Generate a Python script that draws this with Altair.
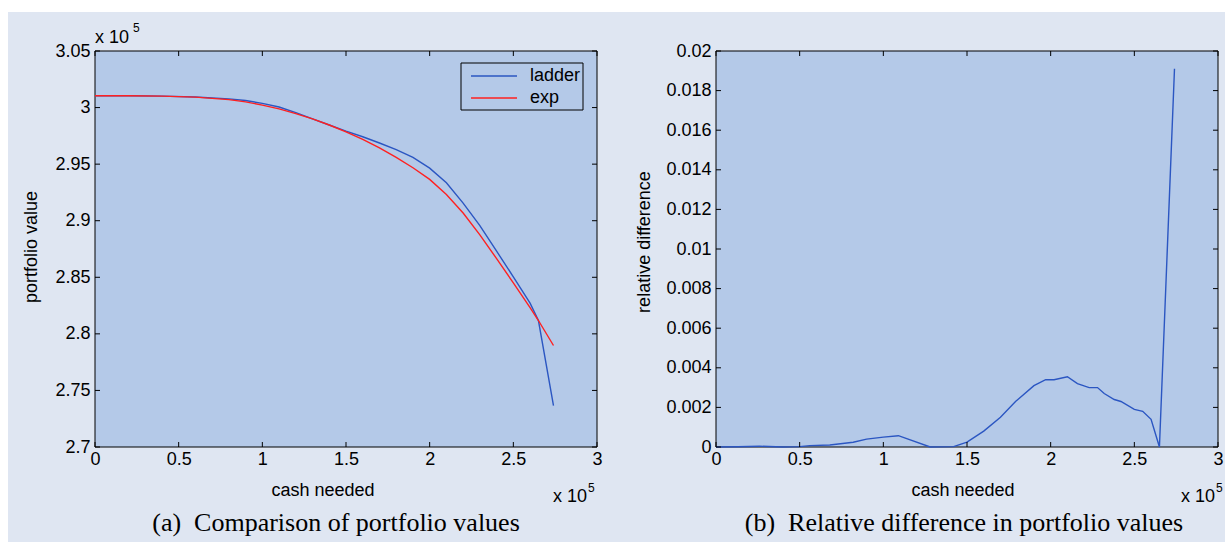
import altair as alt
import pandas as pd

# ---------------- data ----------------
# panel (a): cash needed (x 1e5) vs portfolio value (x 1e5)
x_a = [0.0, 0.2, 0.4, 0.6, 0.8, 0.9, 1.0, 1.1, 1.2, 1.3, 1.4, 1.5, 1.6, 1.7,
       1.8, 1.9, 2.0, 2.1, 2.2, 2.3, 2.4, 2.5, 2.6, 2.65, 2.74]
ladder = [3.0105, 3.0105, 3.0101, 3.0094, 3.0077, 3.0062, 3.0037, 3.0005,
          2.9956, 2.9900, 2.9846, 2.9792, 2.9742, 2.9687, 2.9628, 2.9559,
          2.9465, 2.9336, 2.9156, 2.8956, 2.8731, 2.8504, 2.8272, 2.8118,
          2.7365]
exp_v = [3.0105, 3.0104, 3.0101, 3.0092, 3.0070, 3.0050, 3.0022, 2.9988,
         2.9947, 2.9900, 2.9846, 2.9785, 2.9718, 2.9643, 2.9560, 2.9468,
         2.9365, 2.9232, 2.9068, 2.8875, 2.8665, 2.8450, 2.8232, 2.8118,
         2.7897]

# panel (b): relative difference
x_b = [0.0, 0.13, 0.26, 0.40, 0.50, 0.56, 0.68, 0.82, 0.90, 1.00, 1.09, 1.28,
       1.42, 1.50, 1.60, 1.70, 1.79, 1.90, 1.97, 2.02, 2.10, 2.16, 2.23, 2.28,
       2.32, 2.38, 2.42, 2.50, 2.55, 2.60, 2.65, 2.74]
rel_diff = [0.0, 0.00001, 0.00004, 0.0, 0.00002, 0.00007, 0.0001, 0.00024,
            0.0004, 0.0005, 0.00057, 0.0, 0.00002, 0.00025, 0.0008, 0.0015,
            0.0023, 0.0031, 0.0034, 0.0034, 0.00355, 0.0032, 0.0030, 0.0030,
            0.0027, 0.0024, 0.0023, 0.0019, 0.0018, 0.0014, 0.0, 0.0191]

series_names = ["ladder", "exp"]
x_ticks = [0, 0.5, 1, 1.5, 2, 2.5, 3]
y_ticks_a = [2.7, 2.75, 2.8, 2.85, 2.9, 2.95, 3.0, 3.05]
y_ticks_b = [0, 0.002, 0.004, 0.006, 0.008, 0.01, 0.012, 0.014, 0.016, 0.018, 0.02]

captions = ["(a)\u2002Comparison of portfolio values",
            "(b)\u2002Relative difference in portfolio values"]
y_titles = ["portfolio value", "relative difference"]
x_title = "cash needed"

# ---------------- style ----------------
W, H = 502, 396
BG = "#dfe6f2"
PLOT = "#b4c9e8"
BLUE = "#2b56c2"
RED = "#ff2020"
FONT = "Liberation Sans"
SERIF = "Liberation Serif"
one = pd.DataFrame({"k": [0]})


def txt(text, x, y, size=18, angle=0, align="left", baseline="alphabetic", font=FONT):
    return alt.Chart(one).mark_text(
        text=text, fontSize=size, font=font, angle=angle, align=align,
        baseline=baseline, color="black"
    ).encode(x=alt.value(x), y=alt.value(y))


def panel(xs_domain, ys_domain, yticks, line_chart, bg_x, bg_x2, ytitle, ytitle_x, ytitle_y,
          xtitle_x, exp_x, caption, caption_x, extra):
    xs = alt.Scale(domain=xs_domain, nice=False, zero=False)
    ys = alt.Scale(domain=ys_domain, nice=False, zero=False)
    xaxis = alt.Axis(values=x_ticks, format="~g", title=None, domain=False, ticks=False,
                     grid=False, labelPadding=3, labelFontSize=18, labelFont=FONT,
                     labelColor="black", labelFlush=False, labelOverlap=False, zindex=1)
    yaxis = alt.Axis(values=yticks, format="~g", title=None, domain=False, ticks=False,
                     grid=False, labelPadding=5, labelFontSize=18, labelFont=FONT,
                     labelColor="black", labelFlush=False, labelOverlap=False, zindex=1)
    bg = alt.Chart(one).mark_rect(fill=BG).encode(
        x=alt.value(bg_x), x2=alt.value(bg_x2), y=alt.value(-39), y2=alt.value(491))
    box = alt.Chart(one).mark_rect(fill=PLOT, stroke="black", strokeWidth=1).encode(
        x=alt.value(0), x2=alt.value(W), y=alt.value(0), y2=alt.value(H))
    xt = pd.DataFrame({"t": x_ticks})
    yt = pd.DataFrame({"t": yticks})
    tb = alt.Chart(xt).mark_rule(color="black", strokeWidth=1).encode(
        x=alt.X("t:Q", scale=xs, axis=xaxis), y=alt.value(H - 5), y2=alt.value(H))
    tt = alt.Chart(xt).mark_rule(color="black", strokeWidth=1).encode(
        x=alt.X("t:Q", scale=xs, axis=xaxis), y=alt.value(0), y2=alt.value(5))
    tl = alt.Chart(yt).mark_rule(color="black", strokeWidth=1).encode(
        y=alt.Y("t:Q", scale=ys, axis=yaxis), x=alt.value(0), x2=alt.value(5))
    tr = alt.Chart(yt).mark_rule(color="black", strokeWidth=1).encode(
        y=alt.Y("t:Q", scale=ys, axis=yaxis), x=alt.value(W - 5), x2=alt.value(W))
    lines = line_chart(xs, ys, xaxis, yaxis)
    layers = [bg, box] + extra + [lines, tb, tt, tl, tr,
              txt(ytitle, ytitle_x, ytitle_y, angle=270, align="center", baseline="middle"),
              txt(x_title, xtitle_x, 445, align="center"),
              txt("x 10", exp_x, 451), txt("5", exp_x + 35, 441, size=12),
              txt(caption, caption_x, 480, size=26, align="center", font=SERIF)]
    return alt.layer(*layers).properties(width=W, height=H)


df_a = pd.DataFrame({
    "x": x_a + x_a,
    "v": ladder + exp_v,
    "s": [series_names[0]] * len(x_a) + [series_names[1]] * len(x_a),
})
df_b = pd.DataFrame({"x": x_b, "v": rel_diff})


def lines_a(xs, ys, xaxis, yaxis):
    return alt.Chart(df_a).mark_line(strokeWidth=1.4).encode(
        x=alt.X("x:Q", scale=xs, axis=xaxis),
        y=alt.Y("v:Q", scale=ys, axis=yaxis),
        color=alt.Color("s:N", scale=alt.Scale(domain=series_names, range=[BLUE, RED]),
                        sort=series_names,
                        legend=alt.Legend(orient="none", legendX=375, legendY=16, title=None,
                                          symbolType="stroke", symbolSize=2116,
                                          symbolStrokeWidth=1.4, labelFontSize=18,
                                          labelFont=FONT, labelColor="black",
                                          labelOffset=12, rowPadding=4, padding=0,
                                          clipHeight=18, zindex=1)),
    )


def lines_b(xs, ys, xaxis, yaxis):
    return alt.Chart(df_b).mark_line(strokeWidth=1.4, color=BLUE).encode(
        x=alt.X("x:Q", scale=xs, axis=xaxis),
        y=alt.Y("v:Q", scale=ys, axis=yaxis),
    )


legend_box = alt.Chart(one).mark_rect(fill=PLOT, stroke="black", strokeWidth=1).encode(
    x=alt.value(366), x2=alt.value(488), y=alt.value(12), y2=alt.value(59))

left = panel([0, 3], [2.7, 3.05], y_ticks_a, lines_a, -87, 525, y_titles[0], -63, 196,
             228, 458, captions[0], 241,
             [legend_box, txt("x 10", 0, -8), txt("5", 38, -19, size=12)])
right = panel([0, 3], [0, 0.02], y_ticks_b, lines_b, -96, 509, y_titles[1], -71, 191,
              247, 465, captions[1], 248, [])

chart = alt.hconcat(left, right, spacing=0).resolve_scale(color="independent").properties(
    padding={"left": 8, "top": 12, "right": 0, "bottom": 0},
    background="white",
).configure_view(stroke=None)

chart.save("out.html", embed_options={"renderer": "svg", "actions": False})
